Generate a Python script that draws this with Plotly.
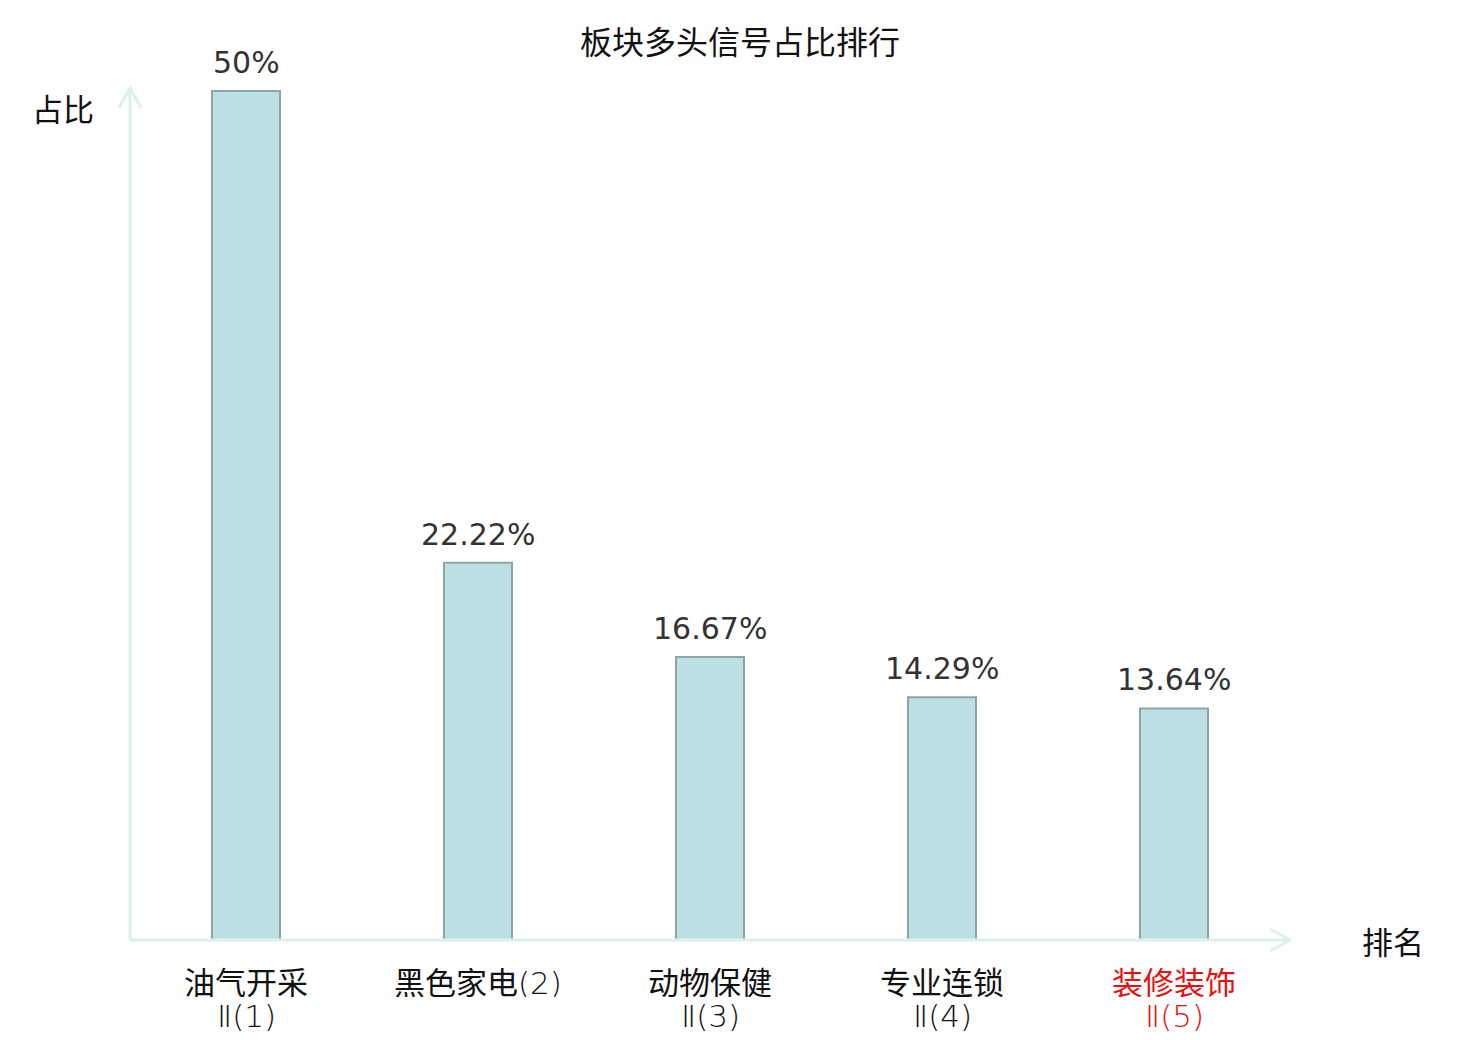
import plotly.graph_objs as go

# sector bullish signal share ranking
sectors = ["油气开采Ⅱ", "黑色家电", "动物保健Ⅱ", "专业连锁Ⅱ", "装修装饰Ⅱ"]
labelLine1 = ["油气开采", "黑色家电(2)", "动物保健", "专业连锁", "装修装饰"]
labelLine2 = ["Ⅱ(1)", "", "Ⅱ(3)", "Ⅱ(4)", "Ⅱ(5)"]
shares = [50, 22.22, 16.67, 14.29, 13.64]
valueLabels = ["50%", "22.22%", "16.67%", "14.29%", "13.64%"]
highlight = 4  # index shown in red

CJK = "Noto Sans CJK SC"
AXIS_COLOR = "#dcf1ee"
THIN = "font-family:'DejaVu Sans ExtraLight','DejaVu Sans';font-weight:200"

def thinify(s):
  # latin parts of the labels are drawn in a light face
  out = ""
  buf = ""
  for ch in s:
    if ch in "()0123456789Ⅱ":
      buf += ch
    else:
      if buf:
        out += f'<span style="{THIN}">{buf}</span>'
        buf = ""
      out += ch
  if buf:
    out += f'<span style="{THIN}">{buf}</span>'
  return out

fig = go.Figure()
fig.add_trace(go.Bar(
  x=sectors, y=shares, width=0.293,
  marker=dict(color="#bce0e3", line=dict(color="#8aa6a6", width=2)),
  hoverinfo="x+y",
))

# value labels above each bar
for s, v, lbl in zip(sectors, shares, valueLabels):
  fig.add_annotation(x=s, y=v, text=lbl, showarrow=False, yanchor="bottom", yshift=9,
                     font=dict(family="DejaVu Sans", size=30, color="#333333"))

# category labels under the axis (two tight lines, explicit box height)
for i, (s, l1, l2) in enumerate(zip(sectors, labelLine1, labelLine2)):
  col = "#e81010" if i == highlight else "#111111"
  fig.add_annotation(x=s, y=0, text=thinify(l1), showarrow=False, yanchor="middle", yshift=-40,
                     height=34, valign="middle", font=dict(family=CJK, size=31, color=col))
  if l2:
    fig.add_annotation(x=s, y=0, text=thinify(l2), showarrow=False, yanchor="middle", yshift=-76,
                       height=34, valign="middle", font=dict(family=CJK, size=31, color=col))

# axis lines with open arrow heads
ax = 11 / 1160
ay = 20 / 852
line = dict(color=AXIS_COLOR, width=3)
fig.add_shape(type="line", xref="paper", yref="paper", x0=0, y0=0, x1=0, y1=1, line=line)
fig.add_shape(type="line", xref="paper", yref="paper", x0=0, y0=0, x1=1, y1=0, line=line)
fig.add_shape(type="path", xref="paper", yref="paper",
              path=f"M {-ax} {1-ay} L 0 1 L {ax} {1-ay}", line=line)
fig.add_shape(type="path", xref="paper", yref="paper",
              path=f"M {1-20/1160} {11/852} L 1 0 L {1-20/1160} {-11/852}", line=line)

fig.add_annotation(xref="paper", yref="paper", x=0, y=1.0, xanchor="center", yanchor="middle",
                   xshift=-67, yshift=-19, text="占比", showarrow=False,
                   font=dict(family=CJK, size=31, color="#111"))
fig.add_annotation(xref="paper", yref="paper", x=1.0, y=0, xanchor="left", yanchor="middle",
                   xshift=70, text="排名", showarrow=False, font=dict(family=CJK, size=31, color="#111"))

fig.update_layout(
  width=1480, height=1040,
  margin=dict(l=122, r=198, t=80, b=108),
  paper_bgcolor="white", plot_bgcolor="white",
  showlegend=False,
  title=dict(text="板块多头信号占比排行", x=732 / 1480, xanchor="center", y=1 - 35 / 1040, yanchor="middle",
             font=dict(family=CJK, size=32, color="#111")),
  xaxis=dict(range=[-0.5, 4.5], showticklabels=False, showline=False,
             showgrid=False, zeroline=False, ticks=""),
  yaxis=dict(range=[0, 50.18], showticklabels=False, showgrid=False, zeroline=False, showline=False),
  font=dict(family=CJK),
)

fig.write_html("out.html")
